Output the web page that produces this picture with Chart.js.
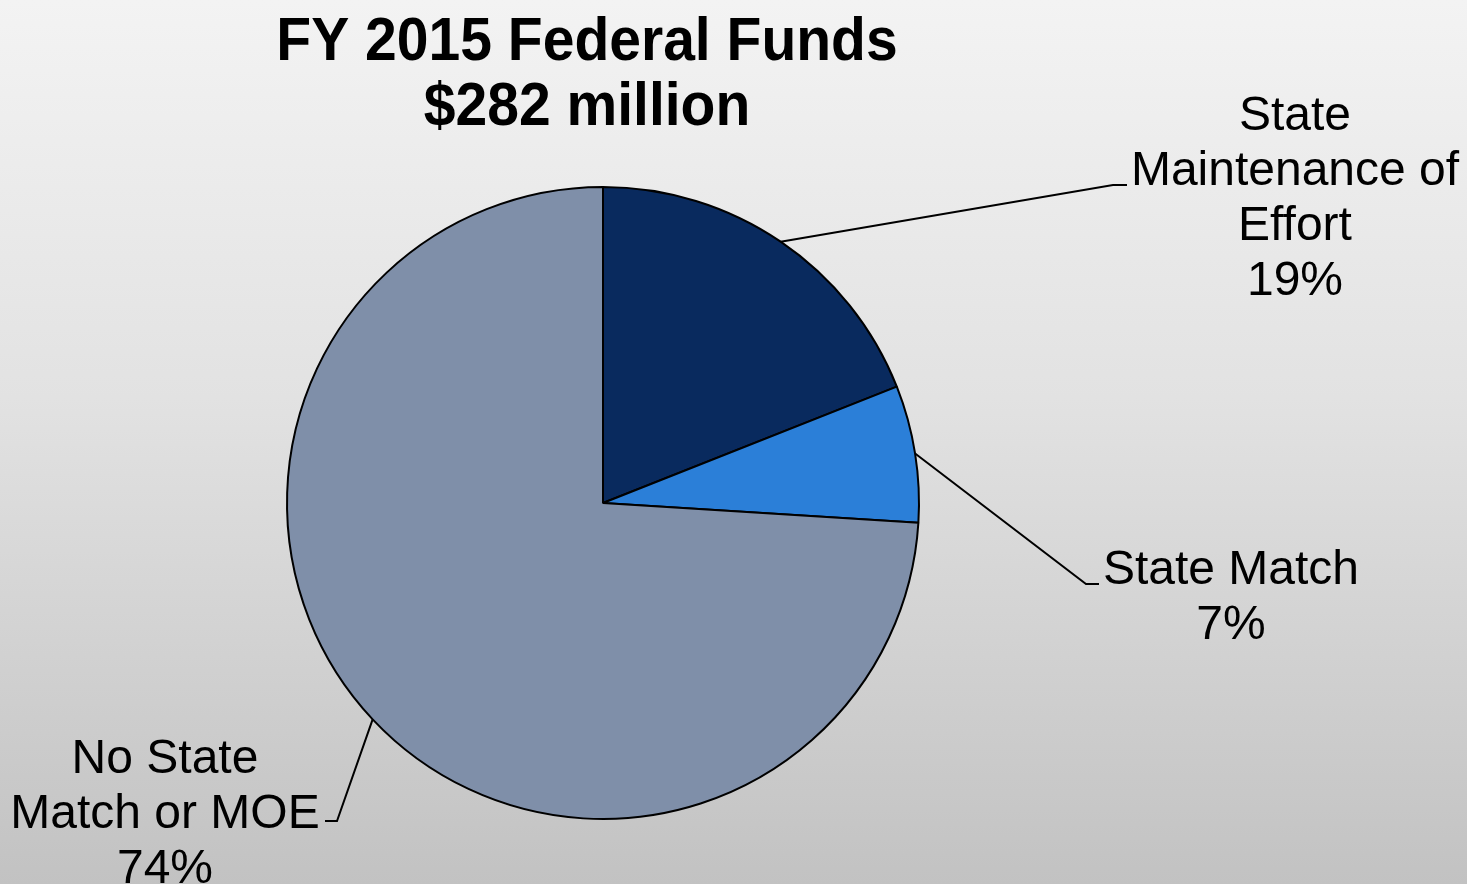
<!DOCTYPE html>
<html lang="en">
  <head>
    <meta charset="UTF-8" />
    <title>FY 2015 Federal Funds</title>
    <script src="https://cdn.jsdelivr.net/npm/chart.js@4.4.1/dist/chart.umd.min.js"></script>
    <style>
      html, body {
        margin: 0;
        padding: 0;
        width: 1467px;
        height: 884px;
        overflow: hidden;
        background: linear-gradient(to bottom, #f3f3f3 0%, #e2e2e2 45%, #c2c2c2 100%);
      }
      canvas { display: block; }
    </style>
  </head>
  <body>
    <canvas id="myChart" width="1467" height="884"></canvas>
    <script>
      // data
      const titleLines = ["FY 2015 Federal Funds", "$282 million"];
      const categories = [
        ["State", "Maintenance of", "Effort"],
        ["State Match"],
        ["No State", "Match or MOE"]
      ];
      const shares = [19, 7, 74];
      const colors = ["#092a5e", "#2b7fd8", "#7f8fa9"];

      // where each label sits (elbow of leader line + text block)
      const labelLayout = [
        { elbow: [1113, 185], end: [1127, 185], cx: 1295, top: 130 },
        { elbow: [1086, 584], end: [1099, 584], cx: 1231, top: 584 },
        { elbow: [337, 821], end: [325, 821], cx: 165, top: 773 }
      ];

      const calloutPlugin = {
        id: "callouts",
        afterDraw(chart) {
          const ctx = chart.ctx;
          const meta = chart.getDatasetMeta(0);
          const total = shares.reduce((a, b) => a + b, 0);

          // title
          ctx.save();
          ctx.fillStyle = "#000";
          ctx.textAlign = "center";
          ctx.textBaseline = "alphabetic";
          ctx.font = "bold 62px 'Liberation Sans', Arial, sans-serif";
          [[60, titleLines[0]], [125, titleLines[1]]].forEach(([y, t]) => {
            ctx.save();
            ctx.translate(587, y);
            ctx.scale(0.92, 1);
            ctx.fillText(t, 0, 0);
            ctx.restore();
          });
          ctx.restore();

          meta.data.forEach((arc, i) => {
            const p = arc.getProps(["x", "y", "startAngle", "endAngle", "outerRadius"], true);
            const mid = (p.startAngle + p.endAngle) / 2;
            const ax = p.x + Math.cos(mid) * p.outerRadius;
            const ay = p.y + Math.sin(mid) * p.outerRadius;
            const lay = labelLayout[i];

            ctx.save();
            ctx.strokeStyle = "#000";
            ctx.lineWidth = 2;
            ctx.beginPath();
            ctx.moveTo(ax, ay);
            ctx.lineTo(lay.elbow[0], lay.elbow[1]);
            ctx.lineTo(lay.end[0], lay.end[1]);
            ctx.stroke();

            ctx.fillStyle = "#000";
            ctx.font = "48px 'Liberation Sans', Arial, sans-serif";
            ctx.textAlign = "center";
            ctx.textBaseline = "alphabetic";
            const lines = categories[i].concat([Math.round(shares[i] / total * 100) + "%"]);
            lines.forEach((t, k) => ctx.fillText(t, lay.cx, lay.top + k * 55));
            ctx.restore();
          });
        }
      };

      const ctx = document.getElementById("myChart").getContext("2d");

      let chart = new Chart(ctx, {
        type: "pie",
        data: {
          labels: categories.map((c) => c.join(" ")),
          datasets: [
            {
              data: shares,
              backgroundColor: colors,
              borderColor: "#000",
              borderWidth: 2,
            },
          ],
        },
        options: {
          responsive: false,
          animation: false,
          events: [],
          layout: {
            padding: { top: 186, bottom: 64, left: 286, right: 547 },
          },
          plugins: {
            legend: { display: false },
            tooltip: { enabled: false },
          },
        },
        plugins: [calloutPlugin],
      });
    </script>
  </body>
</html>
